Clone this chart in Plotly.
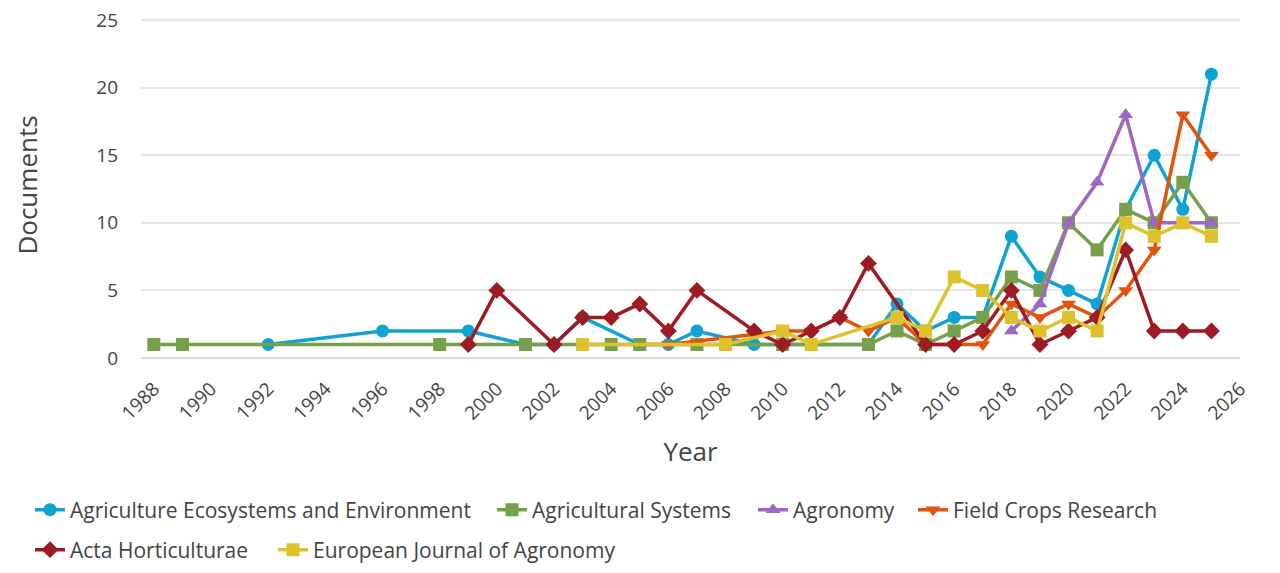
import plotly.graph_objects as go

# Documents per year
aee_years = [1992, 1996, 1999, 2001, 2002, 2003, 2005, 2006, 2007, 2009, 2010, 2013,
             2014, 2015, 2016, 2017, 2018, 2019, 2020, 2021, 2022, 2023, 2024, 2025]
aee_docs = [1, 2, 2, 1, 1, 3, 1, 1, 2, 1, 1, 1,
            4, 2, 3, 3, 9, 6, 5, 4, 11, 15, 11, 21]

agsys_years = [1988, 1989, 1998, 2001, 2004, 2005, 2007, 2010, 2013,
               2014, 2015, 2016, 2017, 2018, 2019, 2020, 2021, 2022, 2023, 2024, 2025]
agsys_docs = [1, 1, 1, 1, 1, 1, 1, 1, 1,
              2, 1, 2, 3, 6, 5, 10, 8, 11, 10, 13, 10]

agron_years = [2018, 2019, 2020, 2021, 2022, 2023, 2024, 2025]
agron_docs = [2, 4, 10, 13, 18, 10, 10, 10]

fcr_years = [2006, 2010, 2011, 2012, 2013, 2014, 2015, 2016, 2017,
             2018, 2019, 2020, 2021, 2022, 2023, 2024, 2025]
fcr_docs = [1, 2, 2, 3, 2, 3, 1, 1, 1,
            4, 3, 4, 3, 5, 8, 18, 15]

acta_years = [1999, 2000, 2002, 2003, 2004, 2005, 2006, 2007, 2009, 2010, 2011, 2012, 2013,
              2015, 2016, 2017, 2018, 2019, 2020, 2021, 2022, 2023, 2024, 2025]
acta_docs = [1, 5, 1, 3, 3, 4, 2, 5, 2, 1, 2, 3, 7,
             1, 1, 2, 5, 1, 2, 3, 8, 2, 2, 2]

eja_years = [2003, 2008, 2010, 2011, 2014, 2015, 2016, 2017,
             2018, 2019, 2020, 2021, 2022, 2023, 2024, 2025]
eja_docs = [1, 1, 2, 1, 3, 2, 6, 5,
            3, 2, 3, 2, 10, 9, 10, 9]

x_ticks = list(range(1988, 2027, 2))
y_ticks = [0, 5, 10, 15, 20, 25]

# name, x, y, colour, marker
series = [
    ("Agriculture Ecosystems and Environment", aee_years, aee_docs, "#0FA3D4", "circle"),
    ("Agricultural Systems", agsys_years, agsys_docs, "#76A04A", "square"),
    ("Agronomy", agron_years, agron_docs, "#A066C4", "triangle-up"),
    ("Field Crops Research", fcr_years, fcr_docs, "#E2540E", "triangle-down"),
    ("Acta Horticulturae", acta_years, acta_docs, "#9E1B24", "diamond"),
    ("European Journal of Agronomy", eja_years, eja_docs, "#DDC22C", "square"),
]

# the page has an 8px body margin, so the figure is drawn 8px smaller
W, H = 1264, 557
# one legend per entry so the spacing follows the reference (x px, y px in figure)
legend_pos = [(22, 502), (484, 502), (745, 502), (905, 502), (22, 542), (265, 542)]

fig = go.Figure()
layout_legends = {}
for i, (name, xs, ys, color, symbol) in enumerate(series):
    key = "legend" if i == 0 else f"legend{i + 1}"
    fig.add_trace(go.Scatter(
        x=xs, y=ys, name=name, mode="lines+markers", legend=key, showlegend=True,
        line=dict(color=color, width=3.5),
        marker=dict(color=color, symbol=symbol, size=13),
        cliponaxis=False,
    ))
    lx, ly = legend_pos[i]
    layout_legends[key] = dict(
        orientation="h", xref="container", yref="container",
        x=lx / W, y=1 - ly / H, xanchor="left", yanchor="middle",
        font=dict(size=21, color="#444444"), itemwidth=30,
        bgcolor="rgba(0,0,0,0)",
    )

fig.update_layout(
    width=W, height=H, showlegend=True,
    margin=dict(l=133, r=32, t=4, b=207),
    paper_bgcolor="white", plot_bgcolor="white",
    font=dict(family="Open Sans", color="#444444", size=19),
    **layout_legends,
)
fig.update_xaxes(
    range=[1987.55, 2026], tickmode="array", tickvals=x_ticks,
    tickangle=-45, showgrid=False, zeroline=False, automargin=False,
    title=dict(text="Year", font=dict(size=26, color="#444444"), standoff=18),
    tickfont=dict(size=19, color="#444444"), ticks="", ticklabelstandoff=15,
)
fig.update_yaxes(
    range=[0, 25.6], tickmode="array", tickvals=y_ticks,
    showgrid=True, gridcolor="#E6E6E6", gridwidth=2,
    zeroline=True, zerolinecolor="#D0DDEB", zerolinewidth=2, automargin=False,
    title=dict(text="Documents", font=dict(size=26, color="#444444"), standoff=51),
    tickfont=dict(size=19, color="#444444"), ticklabelstandoff=22,
    ticklabeloverflow="allow",
)

fig.write_html("out.html")
